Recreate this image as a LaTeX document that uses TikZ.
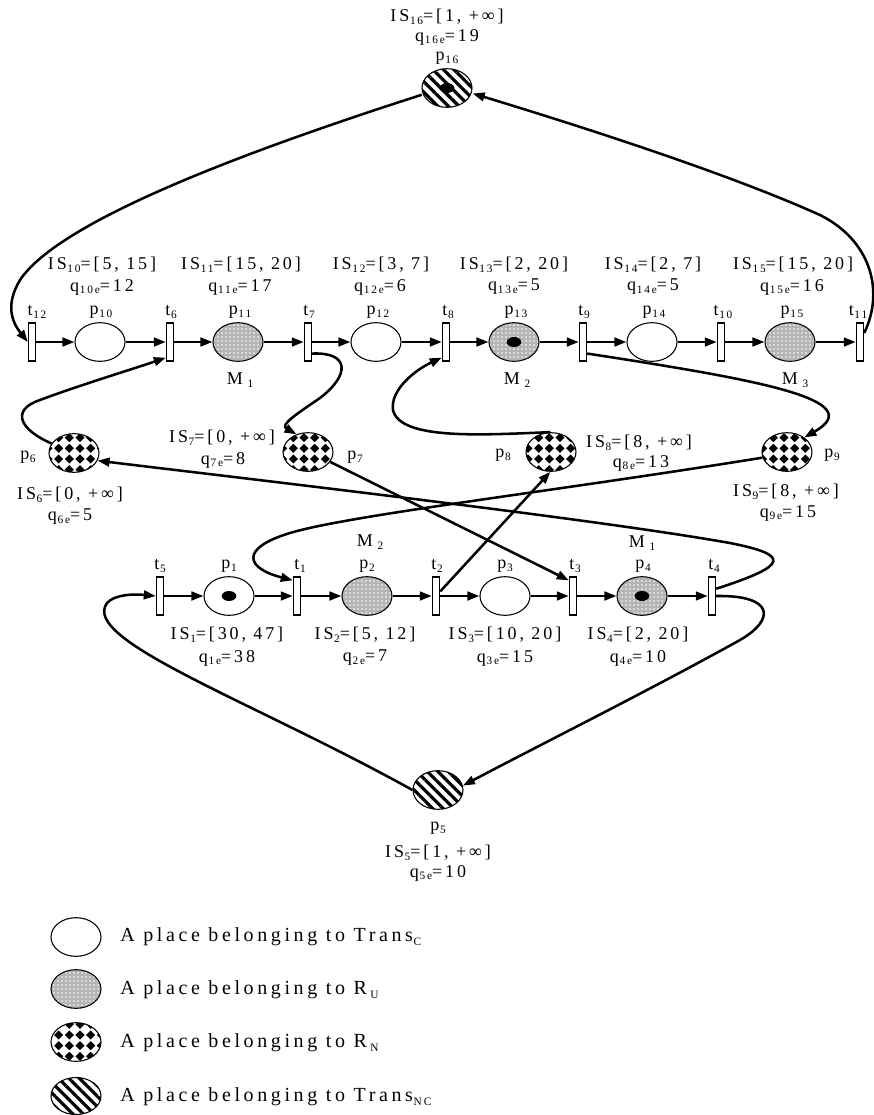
\documentclass[tikz,border=0pt]{standalone}
\usepackage{fontspec}
\setmainfont{Liberation Serif}[LetterSpace=16]
\newfontfamily\legfont{Liberation Serif}[LetterSpace=18]
\usetikzlibrary{shapes.geometric,arrows.meta,patterns,patterns.meta}
\definecolor{ruGray}{RGB}{180,180,180}
\pgfdeclarepatternformonly{rndiam}{\pgfpoint{-0.5pt}{-0.5pt}}{\pgfpoint{8.5pt}{8.5pt}}{\pgfpoint{8pt}{8pt}}{%
  \pgfpathmoveto{\pgfpoint{4pt}{0.6pt}}%
  \pgfpathlineto{\pgfpoint{7.4pt}{4pt}}%
  \pgfpathlineto{\pgfpoint{4pt}{7.4pt}}%
  \pgfpathlineto{\pgfpoint{0.6pt}{4pt}}%
  \pgfpathclose\pgfusepath{fill}}
\pgfdeclarepatternformonly{rudots}{\pgfpoint{-0.5pt}{-0.5pt}}{\pgfpoint{3.5pt}{3.5pt}}{\pgfpoint{3pt}{3pt}}{%
  \pgfpathcircle{\pgfpoint{1.5pt}{1.5pt}}{0.6pt}\pgfusepath{fill}}
\newcommand\lo[1]{\raisebox{-0.35ex}{\fontsize{8.5}{8.5}\selectfont\kern0.5pt #1}}
\tikzset{
  place/.style={ellipse, draw, line width=0.8pt, minimum width=37.5pt, minimum height=29pt, inner sep=0pt},
  ctrans/.style={place, fill=white},
  ru/.style={place, preaction={fill=ruGray}, pattern=rudots, pattern color=white},
  rn/.style={place, preaction={fill=white}, pattern=rndiam, pattern color=black},
  nc/.style={place, preaction={fill=white}, pattern={Lines[angle=-45,distance=5.6pt,line width=2.4pt]}, pattern color=black},
  tr/.style={rectangle, draw, fill=white, line width=0.8pt, minimum width=5.5pt, minimum height=28.5pt, inner sep=0pt},
  tok/.style={ellipse, fill=black, minimum width=11pt, minimum height=7.5pt, inner sep=0pt},
  lbl/.style={inner sep=0pt, font=\fontsize{13.5}{15}\selectfont},
  leg/.style={inner sep=0pt, anchor=west, font=\legfont\fontsize{15}{17}\selectfont},
  arc/.style={line width=1.9pt, -{Triangle[length=9pt,width=6.5pt]}},
}
\begin{document}
\begin{tikzpicture}[x=0.75pt,y=-0.75pt]
\useasboundingbox (0,0) rectangle (874,1115);

% ---------- top place p16
\node[nc] (p16) at (447,88) {};
\node[tok] (k16) at (447,88) {};
\node[lbl] (is16) at (447,17) {IS\lo{16}=[1, +∞]};
\node[lbl] (q16) at (447,37) {q\lo{16e}=19};
\node[lbl] (lp16) at (447,58) {p\lo{16}};

% ---------- top row
\node[tr] (t12) at (32,342) {};
\node[ctrans] (p10) at (100,342) {};
\node[tr] (t6) at (170,342) {};
\node[ru] (p11) at (238,342) {};
\node[tr] (t7) at (308,342) {};
\node[ctrans] (p12) at (376,342) {};
\node[tr] (t8) at (446,342) {};
\node[ru] (p13) at (514,342) {};
\node[tok] (k13) at (514,342) {};
\node[tr] (t9) at (583,342) {};
\node[ctrans] (p14) at (652,342) {};
\node[tr] (t10) at (721,342) {};
\node[ru] (p15) at (790,342) {};
\node[tr] (t11) at (860,342) {};

\node[lbl] (is10) at (102,265) {IS\lo{10}=[5, 15]};
\node[lbl] (is11) at (241,265) {IS\lo{11}=[15, 20]};
\node[lbl] (is12) at (381,265) {IS\lo{12}=[3, 7]};
\node[lbl] (is13) at (514,265) {IS\lo{13}=[2, 20]};
\node[lbl] (is14) at (653,265) {IS\lo{14}=[2, 7]};
\node[lbl] (is15) at (793,265) {IS\lo{15}=[15, 20]};
\node[lbl] (q10) at (102,287) {q\lo{10e}=12};
\node[lbl] (q11) at (240,287) {q\lo{11e}=17};
\node[lbl] (q12) at (380,287) {q\lo{12e}=6};
\node[lbl] (q13) at (514,287) {q\lo{13e}=5};
\node[lbl] (q14) at (653,287) {q\lo{14e}=5};
\node[lbl] (q15) at (792,287) {q\lo{15e}=16};
\node[lbl] (lt12) at (37,312) {t\lo{12}};
\node[lbl] (lp10) at (101,312) {p\lo{10}};
\node[lbl] (lt6) at (171,312) {t\lo{6}};
\node[lbl] (lp11) at (240,312) {p\lo{11}};
\node[lbl] (lt7) at (309,312) {t\lo{7}};
\node[lbl] (lp12) at (378,312) {p\lo{12}};
\node[lbl] (lt8) at (448,312) {t\lo{8}};
\node[lbl] (lp13) at (516,312) {p\lo{13}};
\node[lbl] (lt9) at (584,312) {t\lo{9}};
\node[lbl] (lp14) at (654,312) {p\lo{14}};
\node[lbl] (lt10) at (723,312) {t\lo{10}};
\node[lbl] (lp15) at (792,312) {p\lo{15}};
\node[lbl] (lt11) at (858,312) {t\lo{11}};
\node[lbl] (lm11) at (240,380) {M\kern3pt\lo{1}};
\node[lbl] (lm13) at (517,380) {M\kern3pt\lo{2}};
\node[lbl] (lm15) at (795,380) {M\kern3pt\lo{3}};

% ---------- middle places
\node[rn] (p6) at (74,453) {};
\node[rn] (p7) at (308,452) {};
\node[rn] (p8) at (551,452) {};
\node[rn] (p9) at (787,452) {};
\node[lbl] (lp6) at (28,457) {p\lo{6}};
\node[lbl] (is6) at (70,495) {IS\lo{6}=[0, +∞]};
\node[lbl] (q6) at (70,517) {q\lo{6e}=5};
\node[lbl] (is7) at (222,438) {IS\lo{7}=[0, +∞]};
\node[lbl] (q7) at (223,460) {q\lo{7e}=8};
\node[lbl] (lp7) at (355,457) {p\lo{7}};
\node[lbl] (lp8) at (503,455) {p\lo{8}};
\node[lbl] (is8) at (639,443) {IS\lo{8}=[8, +∞]};
\node[lbl] (q8) at (641,463) {q\lo{8e}=13};
\node[lbl] (lp9) at (832,455) {p\lo{9}};
\node[lbl] (is9) at (786,492) {IS\lo{9}=[8, +∞]};
\node[lbl] (q9) at (788,513) {q\lo{9e}=15};

% ---------- bottom row
\node[tr] (t5) at (160,596) {};
\node[ctrans] (p1) at (229,596) {};
\node[tok] (k1) at (229,596) {};
\node[tr] (t1) at (297,596) {};
\node[ru] (p2) at (367,596) {};
\node[tr] (t2) at (436,596) {};
\node[ctrans] (p3) at (505,596) {};
\node[tr] (t3) at (573,596) {};
\node[ru] (p4) at (642,596) {};
\node[tok] (k4) at (642,596) {};
\node[tr] (t4) at (712,596) {};

\node[lbl] (lm2) at (370,542) {M\kern3pt\lo{2}};
\node[lbl] (lm4) at (642,543) {M\kern3pt\lo{1}};
\node[lbl] (lt5) at (160,566) {t\lo{5}};
\node[lbl] (lp1) at (229,566) {p\lo{1}};
\node[lbl] (lt1) at (300,566) {t\lo{1}};
\node[lbl] (lp2) at (367,566) {p\lo{2}};
\node[lbl] (lt2) at (437,566) {t\lo{2}};
\node[lbl] (lp3) at (505,566) {p\lo{3}};
\node[lbl] (lt3) at (575,566) {t\lo{3}};
\node[lbl] (lp4) at (643,566) {p\lo{4}};
\node[lbl] (lt4) at (714,566) {t\lo{4}};
\node[lbl] (is1) at (227,635) {IS\lo{1}=[30, 47]};
\node[lbl] (is2) at (365,635) {IS\lo{2}=[5, 12]};
\node[lbl] (is3) at (505,635) {IS\lo{3}=[10, 20]};
\node[lbl] (is4) at (638,635) {IS\lo{4}=[2, 20]};
\node[lbl] (q1) at (227,658) {q\lo{1e}=38};
\node[lbl] (q2) at (365,658) {q\lo{2e}=7};
\node[lbl] (q3) at (505,658) {q\lo{3e}=15};
\node[lbl] (q4) at (638,658) {q\lo{4e}=10};

% ---------- p5
\node[nc] (p5) at (438,790) {};
\node[lbl] (lp5) at (438,828) {p\lo{5}};
\node[lbl] (is5) at (438,853) {IS\lo{5}=[1, +∞]};
\node[lbl] (q5) at (438,873) {q\lo{5e}=10};

% ---------- row arcs
\draw[arc] (t12) -- (p10);
\draw[arc] (p10) -- (t6);
\draw[arc] (t6) -- (p11);
\draw[arc] (p11) -- (t7);
\draw[arc] (t7) -- (p12);
\draw[arc] (p12) -- (t8);
\draw[arc] (t8) -- (p13);
\draw[arc] (p13) -- (t9);
\draw[arc] (t9) -- (p14);
\draw[arc] (p14) -- (t10);
\draw[arc] (t10) -- (p15);
\draw[arc] (p15) -- (t11);
\draw[arc] (t5) -- (p1);
\draw[arc] (p1) -- (t1);
\draw[arc] (t1) -- (p2);
\draw[arc] (p2) -- (t2);
\draw[arc] (t2) -- (p3);
\draw[arc] (p3) -- (t3);
\draw[arc] (t3) -- (p4);
\draw[arc] (p4) -- (t4);

% ---------- curved arcs
\draw[arc] (p16.195) .. controls (250,150) and (60,220) .. (20,280) .. controls (5,305) and (12,322) .. (t12.west);
\draw[arc] (t11.65) .. controls (885,290) and (870,240) .. (820,215) .. controls (720,170) and (560,120) .. (p16.-12);
\draw[arc] (t4.east) .. controls (775,595) and (775,620) .. (740,640) .. controls (650,690) and (530,750) .. (p5.10);
\draw[arc] (p5.west) .. controls (250,700) and (80,640) .. (107,603) .. controls (115,594) and (135,594) .. (t5.west);
\draw[arc] (t4.60) .. controls (790,565) and (790,555) .. (730,543) .. controls (600,520) and (300,485) .. (p6.-18);
\draw[arc] (p9.193) .. controls (550,492) and (350,515) .. (290,533) .. controls (240,548) and (245,568) .. (t1.105);
\draw[arc] (p6.157) .. controls (20,430) and (10,410) .. (40,400) .. controls (80,385) and (130,370) .. (t6.-105);
\draw[arc] (t7.-70) .. controls (350,352) and (350,375) .. (320,398) .. controls (295,415) and (280,425) .. (p7.123);
\draw[arc] (p7.-24) -- (t3.105);
\draw[arc] (t2) -- (p8.-92);
\draw[arc] (p8.92) .. controls (480,435) and (400,440) .. (393,410) .. controls (390,390) and (415,370) .. (t8.-105);
\draw[arc] (t9.-70) .. controls (760,380) and (870,400) .. (p9.40);

% ---------- legend
\node[ctrans] (lg1) at (76,937) {};
\node[ru] (lg2) at (76,989) {};
\node[rn] (lg3) at (76,1042) {};
\node[nc, minimum height=27.75pt] (lg4) at (76,1096) {};
\node[leg] (lt1) at (120,937) {A place belonging to Trans\lo{C}};
\node[leg] (lt2) at (120,990) {A place belonging to R\kern2pt\lo{U}};
\node[leg] (lt3) at (120,1043) {A place belonging to R\kern2pt\lo{N}};
\node[leg] (lt4) at (120,1097) {A place belonging to Trans\lo{NC}};
\end{tikzpicture}
\end{document}
